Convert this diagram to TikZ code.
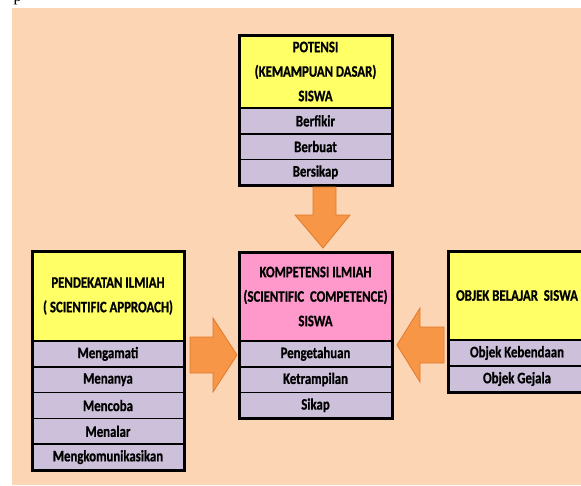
\documentclass[tikz,border=0pt]{standalone}
\usepackage{fontspec}
\setmainfont{Carlito}[FakeStretch=0.8,BoldFeatures={FakeBold=0.8}]
\newfontfamily\serifp{Liberation Serif}
\definecolor{peach}{HTML}{FCD5B5}
\definecolor{hdryellow}{HTML}{FFFF66}
\definecolor{hdrpink}{HTML}{FF99CC}
\definecolor{lav}{HTML}{CCC0DA}
\definecolor{arrowfill}{HTML}{F79646}
\definecolor{arrowline}{HTML}{E07A2E}
\begin{document}
\begin{tikzpicture}[x=1pt,y=-1pt,
  cell/.style={rectangle,draw=black,line width=1.6pt,inner sep=0pt,outer sep=0pt,
    font=\bfseries\fontsize{16}{24.5}\selectfont,align=center},
  rowcell/.style={cell,fill=lav},
  ycell/.style={cell,fill=hdryellow},
  pcell/.style={cell,fill=hdrpink},
  outerbox/.style={draw=black,line width=3pt},
  blockarrow/.style={fill=arrowfill,draw=arrowline,line width=0.8pt,line join=miter}]
\useasboundingbox (0,0) rectangle (581,485);
\fill[peach] (12,8) rectangle (581,485);
\node[font=\serifp\fontsize{16}{16}\selectfont,anchor=base west,inner sep=0pt] (pp) at (13.5,1.5) {p};

% top box: POTENSI
\node[ycell,minimum width=153pt,minimum height=73pt] (t0) at (315.5,71.5)
  {POTENSI\\(KEMAMPUAN DASAR)\\SISWA};
\node[rowcell,minimum width=153pt,minimum height=25.7pt] (t1) at (315.5,120.85) {Berfikir};
\node[rowcell,minimum width=153pt,minimum height=25.7pt] (t2) at (315.5,146.55) {Berbuat};
\node[rowcell,minimum width=153pt,minimum height=25.7pt] (t3) at (315.5,172.25) {Bersikap};
\draw[outerbox] (t0.north west) rectangle (t3.south east);

% center box
\node[pcell,minimum width=153pt,minimum height=89pt] (c0) at (315.5,296.5)
  {KOMPETENSI ILMIAH\\(SCIENTIFIC\ \ COMPETENCE)\\SISWA};
\node[rowcell,minimum width=153pt,minimum height=25.7pt] (c1) at (315.5,353.85) {Pengetahuan};
\node[rowcell,minimum width=153pt,minimum height=25.7pt] (c2) at (315.5,379.55) {Ketrampilan};
\node[rowcell,minimum width=153pt,minimum height=25.7pt] (c3) at (315.5,405.25) {Sikap};
\draw[outerbox] (c0.north west) rectangle (c3.south east);

% left box
\node[ycell,minimum width=152pt,minimum height=90pt] (l0) at (108,296)
  {PENDEKATAN ILMIAH\\( SCIENTIFIC APPROACH)};
\node[rowcell,minimum width=152pt,minimum height=25.8pt] (l1) at (108,353.9) {Mengamati};
\node[rowcell,minimum width=152pt,minimum height=25.8pt] (l2) at (108,379.7) {Menanya};
\node[rowcell,minimum width=152pt,minimum height=25.8pt] (l3) at (108,405.5) {Mencoba};
\node[rowcell,minimum width=152pt,minimum height=25.8pt] (l4) at (108,431.3) {Menalar};
\node[rowcell,minimum width=152pt,minimum height=25.8pt] (l5) at (108,457.1) {Mengkomunikasikan};
\draw[outerbox] (l0.north west) rectangle (l5.south east);

% right box
\node[ycell,minimum width=138pt,minimum height=89pt] (r0) at (517,295.5)
  {OBJEK BELAJAR\ \ SISWA};
\node[rowcell,minimum width=138pt,minimum height=26pt] (r1) at (517,353) {Objek Kebendaan};
\node[rowcell,minimum width=138pt,minimum height=26pt] (r2) at (517,379) {Objek Gejala};
\draw[outerbox] (r0.north west) rectangle (r2.south east);

% block arrows
\draw[blockarrow] (313,187) -- (336,187) -- (336,215) -- (350,215) -- (323,248)
  -- (295,215) -- (313,215) -- cycle;
\draw[blockarrow] (190,337) -- (213,337) -- (213,318) -- (237,355) -- (213,392)
  -- (213,373) -- (190,373) -- cycle;
\draw[blockarrow] (444,327) -- (420,327) -- (420,308) -- (397,345) -- (420,382)
  -- (420,363) -- (444,363) -- cycle;
\end{tikzpicture}
\end{document}
